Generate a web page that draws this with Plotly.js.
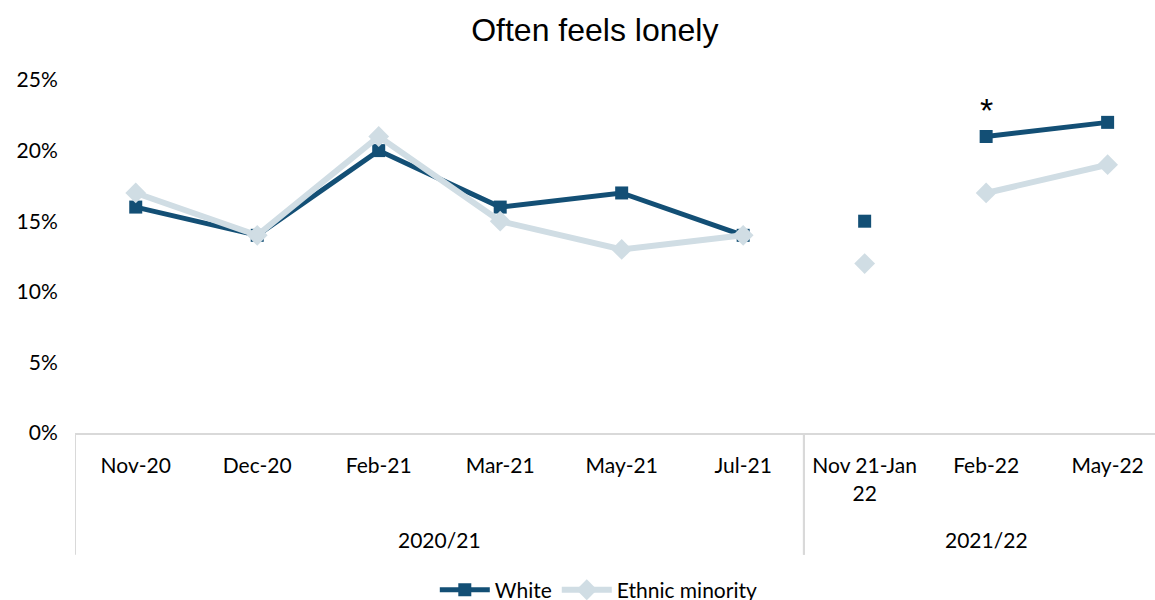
<!DOCTYPE html>
<html><head><meta charset="utf-8">
<script src="https://cdn.plot.ly/plotly-3.0.1.min.js"></script>
<style>html,body{margin:0;padding:0;background:#fff;overflow:hidden}#chart{width:1155px;height:620px}</style>
</head><body><div id="chart"></div>
<script>
const categories = ["Nov-20","Dec-20","Feb-21","Mar-21","May-21","Jul-21","Nov 21-Jan<br>22","Feb-22","May-22"];
const groups = ["2020/21","2020/21","2020/21","2020/21","2020/21","2020/21","2021/22","2021/22","2021/22"];
const white = [16,14,20,16,17,14,15,21,22];
const ethnicMinority = [17,14,21,15,13,14,12,17,19];
const segments = [[0,5],[6,6],[7,8]];
const significant = [false,false,false,false,false,false,false,true,false];
const yTicks = [0,5,10,15,20,25];

const idx = categories.map((_, i) => i);
const traces = [];
function addSeries(name, vals, color, symbol, msize, lw) {
  segments.forEach((s, k) => {
    const xs = idx.slice(s[0], s[1] + 1);
    traces.push({
      type: 'scatter', mode: 'lines+markers', name: name, legendgroup: name,
      showlegend: k === 0, x: xs, y: xs.map(i => vals[i]),
      line: {color: color, width: lw},
      marker: {symbol: symbol, size: msize, color: color},
      hoverinfo: 'skip'
    });
  });
}
addSeries('White', white, '#134f75', 'square', 13, 5);
addSeries('Ethnic minority', ethnicMinority, '#d0dde4', 'diamond', 16, 6);

const groupNames = [...new Set(groups)];
const shapes = [];
const annotations = [];
groupNames.forEach(g => {
  const first = groups.indexOf(g), last = groups.lastIndexOf(g);
  shapes.push({type:'line', xref:'x', yref:'paper', x0:first-0.5, x1:first-0.5, y0:0, y1:-0.345, line:{color:'#d9d9d9', width:2}});
  shapes.push({type:'line', xref:'x', yref:'paper', x0:last+0.5, x1:last+0.5, y0:0, y1:-0.345, line:{color:'#d9d9d9', width:2}});
  annotations.push({x:(first+last)/2, xref:'x', y:-0.303, yref:'paper', text:g, showarrow:false,
    font:{family:'Lato, sans-serif', size:21, color:'#000'}, yanchor:'middle'});
});
significant.forEach((s, i) => {
  if (s) annotations.push({x:i, xref:'x', y:white[i], yref:'y', text:'*', showarrow:false,
    yshift:26, font:{family:'Liberation Sans, Arial, sans-serif', size:34, color:'#000'}});
});

const layout = {
  width: 1155, height: 620,
  margin: {l:75, r:0, t:80, b:187},
  paper_bgcolor: '#fff', plot_bgcolor: '#fff',
  title: {text:'Often feels lonely', x:0.515, xanchor:'center', y:30, yref:'container', yanchor:'middle',
    font:{family:'Liberation Sans, Arial, sans-serif', size:32, color:'#000'}},
  xaxis: {
    tickmode:'array', tickvals: idx, ticktext: categories,
    range: [-0.5, 8.39], showgrid:false, zeroline:false,
    showline:true, linecolor:'#d9d9d9', linewidth:2,
    ticks:'outside', ticklen:13, tickcolor:'rgba(0,0,0,0)',
    tickfont:{family:'Lato, sans-serif', size:21, color:'#000'}
  },
  yaxis: {
    range:[0,25], tickmode:'array', tickvals:yTicks, ticktext: yTicks.map(v => v + '%'),
    showgrid:false, zeroline:false, showline:false,
    ticks:'outside', ticklen:12, tickcolor:'rgba(0,0,0,0)',
    tickfont:{family:'Lato, sans-serif', size:21, color:'#000'}
  },
  showlegend: true,
  legend: {orientation:'h', x:0.485, xanchor:'center', y:-0.445, yanchor:'middle',
    font:{family:'Lato, sans-serif', size:21, color:'#000'}, itemwidth:50},
  shapes: shapes, annotations: annotations
};
layout.title.y = 1 - 30 / layout.height;
layout.title.yref = 'container';
Plotly.newPlot('chart', traces, layout, {displayModeBar:false, staticPlot:true});
</script></body></html>
